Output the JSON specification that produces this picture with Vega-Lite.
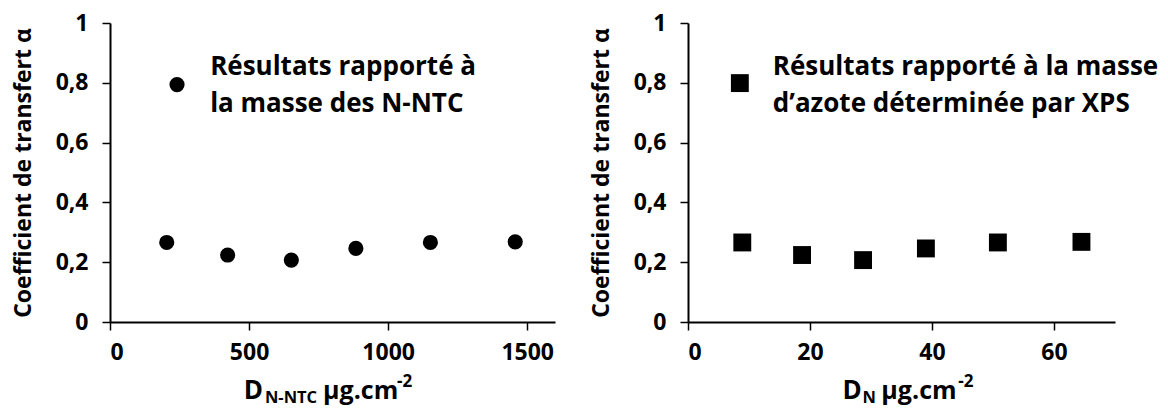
{
  "$schema": "https://vega.github.io/schema/vega-lite/v6.json",
  "padding": {"left": 12, "top": 12, "right": 5, "bottom": 0},
  "spacing": 35,
  "background": "white",
  "config": {
    "view": {"stroke": null},
    "font": "Open Sans",
    "axis": {
      "grid": false,
      "domainColor": "#000",
      "domainWidth": 2,
      "tickColor": "#000",
      "tickWidth": 1.5,
      "tickSize": 8,
      "labelFont": "Open Sans",
      "labelFontSize": 23,
      "labelFontWeight": "bold",
      "labelColor": "#000",
      "titleFont": "Open Sans",
      "titleFontSize": 23,
      "titleFontWeight": "bold",
      "titleColor": "#000"
    }
  },
  "datasets": {
    "nntc": [
      {"D": 204, "alpha": 0.266},
      {"D": 423, "alpha": 0.224},
      {"D": 652, "alpha": 0.207},
      {"D": 884, "alpha": 0.246},
      {"D": 1152, "alpha": 0.266},
      {"D": 1457, "alpha": 0.268}
    ],
    "xps": [
      {"D": 8.9, "alpha": 0.266},
      {"D": 18.7, "alpha": 0.224},
      {"D": 28.7, "alpha": 0.207},
      {"D": 39.0, "alpha": 0.246},
      {"D": 50.8, "alpha": 0.266},
      {"D": 64.5, "alpha": 0.268}
    ]
  },
  "hconcat": [
    {
      "width": 445,
      "height": 299,
      "layer": [
        {
          "data": {"name": "nntc"},
          "mark": {"type": "point", "shape": "circle", "filled": true, "size": 230, "color": "#000", "opacity": 1},
          "encoding": {
            "x": {"field": "D", "type": "quantitative", "scale": {"domain": [0, 1600], "nice": false},
                  "axis": {"values": [0, 500, 1000, 1500], "title": null, "labelPadding": 11, "format": "d"}},
            "y": {"field": "alpha", "type": "quantitative", "scale": {"domain": [0, 1], "nice": false},
                  "axis": {"values": [0, 0.2, 0.4, 0.6, 0.8, 1], "title": "Coefficient de transfert α", "titlePadding": 20, "labelPadding": 14,
                           "labelExpr": "replace(format(datum.value, '.1~f'), '.', ',')"}}
          }
        },
        {
          "data": {"values": [{}]},
          "mark": {"type": "point", "shape": "circle", "filled": true, "size": 230, "color": "#000", "opacity": 1},
          "encoding": {"x": {"datum": 241}, "y": {"datum": 0.794}}
        },
        {
          "data": {"values": [{}]},
          "mark": {"type": "text", "align": "left", "baseline": "alphabetic", "fontSize": 26, "fontWeight": "bold", "color": "#000", "lineHeight": 37,
                   "text": ["Résultats rapporté à", "la masse des N-NTC"]},
          "encoding": {"x": {"datum": 360}, "y": {"datum": 0.8265}}
        },
        {
          "data": {"values": [{}]},
          "mark": {"type": "text", "align": "right", "baseline": "alphabetic", "fontSize": 26, "fontWeight": "bold", "color": "#000", "text": "D"},
          "encoding": {"x": {"datum": 550}, "y": {"datum": -0.259}}
        },
        {
          "data": {"values": [{}]},
          "mark": {"type": "text", "align": "left", "baseline": "alphabetic", "fontSize": 16.5, "fontWeight": "bold", "color": "#000", "text": "N-NTC"},
          "encoding": {"x": {"datum": 557}, "y": {"datum": -0.272}}
        },
        {
          "data": {"values": [{}]},
          "mark": {"type": "text", "align": "left", "baseline": "alphabetic", "fontSize": 25, "fontWeight": "bold", "color": "#000", "text": "µg.cm"},
          "encoding": {"x": {"datum": 766}, "y": {"datum": -0.259}}
        },
        {
          "data": {"values": [{}]},
          "mark": {"type": "text", "align": "left", "baseline": "alphabetic", "fontSize": 17, "fontWeight": "bold", "color": "#000", "text": "-2"},
          "encoding": {"x": {"datum": 1032}, "y": {"datum": -0.219}}
        }
      ]
    },
    {
      "width": 427,
      "height": 299,
      "layer": [
        {
          "data": {"name": "xps"},
          "mark": {"type": "point", "shape": "square", "filled": true, "size": 320, "color": "#000", "opacity": 1},
          "encoding": {
            "x": {"field": "D", "type": "quantitative", "scale": {"domain": [0, 70], "nice": false},
                  "axis": {"values": [0, 20, 40, 60], "title": null, "labelPadding": 11, "format": "d"}},
            "y": {"field": "alpha", "type": "quantitative", "scale": {"domain": [0, 1], "nice": false},
                  "axis": {"values": [0, 0.2, 0.4, 0.6, 0.8, 1], "title": "Coefficient de transfert α", "titlePadding": 20, "labelPadding": 14,
                           "labelExpr": "replace(format(datum.value, '.1~f'), '.', ',')"}}
          }
        },
        {
          "data": {"values": [{}]},
          "mark": {"type": "point", "shape": "square", "filled": true, "size": 320, "color": "#000", "opacity": 1},
          "encoding": {"x": {"datum": 8.5}, "y": {"datum": 0.799}}
        },
        {
          "data": {"values": [{}]},
          "mark": {"type": "text", "align": "left", "baseline": "alphabetic", "fontSize": 26, "fontWeight": "bold", "color": "#000", "lineHeight": 37,
                   "text": ["Résultats rapporté à la masse", "d’azote déterminée par XPS"]},
          "encoding": {"x": {"datum": 13.9}, "y": {"datum": 0.8265}}
        },
        {
          "data": {"values": [{}]},
          "mark": {"type": "text", "align": "right", "baseline": "alphabetic", "fontSize": 26, "fontWeight": "bold", "color": "#000", "text": "D"},
          "encoding": {"x": {"datum": 28.5}, "y": {"datum": -0.259}}
        },
        {
          "data": {"values": [{}]},
          "mark": {"type": "text", "align": "left", "baseline": "alphabetic", "fontSize": 16.5, "fontWeight": "bold", "color": "#000", "text": "N"},
          "encoding": {"x": {"datum": 28.6}, "y": {"datum": -0.272}}
        },
        {
          "data": {"values": [{}]},
          "mark": {"type": "text", "align": "left", "baseline": "alphabetic", "fontSize": 25, "fontWeight": "bold", "color": "#000", "text": "µg.cm"},
          "encoding": {"x": {"datum": 31.7}, "y": {"datum": -0.259}}
        },
        {
          "data": {"values": [{}]},
          "mark": {"type": "text", "align": "left", "baseline": "alphabetic", "fontSize": 17, "fontWeight": "bold", "color": "#000", "text": "-2"},
          "encoding": {"x": {"datum": 44.3}, "y": {"datum": -0.219}}
        }
      ]
    }
  ]
}
